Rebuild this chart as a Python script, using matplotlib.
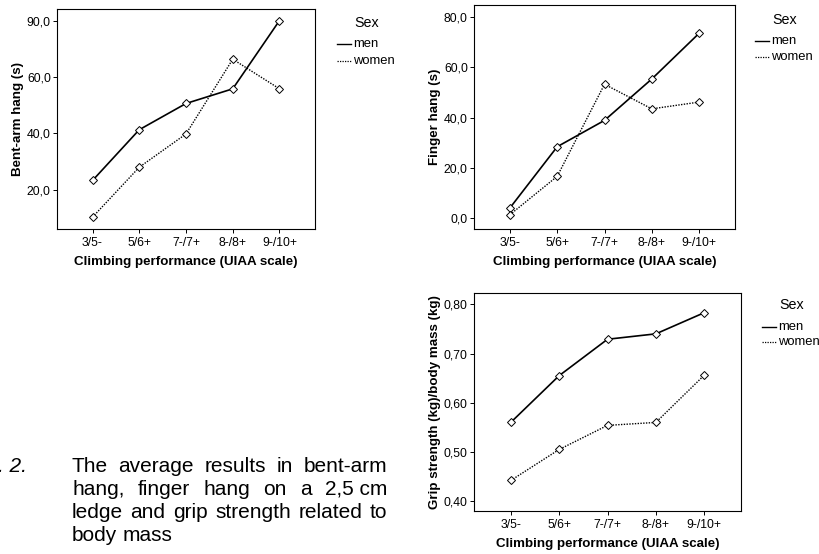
import matplotlib
matplotlib.use("Agg")
import matplotlib.pyplot as plt
from matplotlib.lines import Line2D

plt.rcParams['font.family'] = ['Liberation Sans', 'DejaVu Sans']

# donnees
grades = ["3/5-", "5/6+", "7-/7+", "8-/8+", "9-/10+"]

bent_men = [23.3, 41.3, 50.6, 55.8, 80.0]
bent_women = [10.3, 28.0, 39.8, 66.3, 55.8]
bent_ticks = [20, 40, 60, 80]
bent_ticklabels = ["20,0", "40,0", "60,0", "90,0"]  # tel quel sur l'original

finger_men = [4.0, 28.4, 38.9, 55.4, 73.6]
finger_women = [1.3, 16.6, 53.3, 43.5, 46.2]
finger_ticks = [0, 20, 40, 60, 80]
finger_ticklabels = ["0,0", "20,0", "40,0", "60,0", "80,0"]

grip_men = [0.560, 0.655, 0.729, 0.740, 0.783]
grip_women = [0.442, 0.505, 0.554, 0.560, 0.656]
grip_ticks = [0.40, 0.50, 0.60, 0.70, 0.80]
grip_ticklabels = ["0,40", "0,50", "0,60", "0,70", "0,80"]

caption_lines = [
    ["The", "average", "results", "in", "bent-arm"],
    ["hang,", "finger", "hang", "on", "a", "2,5 cm"],
    ["ledge", "and", "grip", "strength", "related", "to"],
    ["body", "mass"],
]

W, H = 819, 554
fig = plt.figure(figsize=(W / 100, H / 100), dpi=100)


def px_axes(left, right, top, bottom):
    return fig.add_axes([left / W, 1 - bottom / H, (right - left) / W, (bottom - top) / H])


def panel(ax, men, women, ticks, ticklabels, ylim, ylabel):
    x = list(range(len(grades)))
    ax.plot(x, men, color='black', lw=1.2, ls='-', marker='D', ms=3.6,
            mfc='white', mec='black', mew=0.7)
    ax.plot(x, women, color='black', lw=1.0, ls=(0, (1, 1)), marker='D', ms=3.6,
            mfc='white', mec='black', mew=0.7)
    ax.set_xlim(-0.76, 4.76)
    ax.set_ylim(*ylim)
    ax.set_xticks(x)
    ax.set_xticklabels(grades, fontsize=8.8)
    ax.set_yticks(ticks)
    ax.set_yticklabels(ticklabels, fontsize=8.8)
    ax.tick_params(direction='out', length=3, width=0.7, pad=1.5)
    ax.tick_params(axis='x', pad=3)
    for s in ax.spines.values():
        s.set_linewidth(0.8)
    ax.set_xlabel("Climbing performance (UIAA scale)", fontsize=9.6, fontweight='bold', labelpad=5)
    ax.set_ylabel(ylabel, fontsize=9.6, fontweight='bold', labelpad=2)


def legend(x_line, y_sex, y_men, y_women):
    fig.text((x_line + 17) / W, 1 - y_sex / H, "Sex", fontsize=10.3, va='center')
    fig.add_artist(Line2D([x_line / W, (x_line + 14) / W], [1 - y_men / H] * 2,
                          color='black', lw=1.0, ls='-'))
    fig.add_artist(Line2D([x_line / W, (x_line + 14) / W], [1 - y_women / H] * 2,
                          color='black', lw=0.9, ls=(0, (1, 1))))
    fig.text((x_line + 16) / W, 1 - y_men / H, "men", fontsize=9.4, va='center')
    fig.text((x_line + 16) / W, 1 - y_women / H, "women", fontsize=9.4, va='center')


ax1 = px_axes(57, 315, 9, 229)
panel(ax1, bent_men, bent_women, bent_ticks, bent_ticklabels, (6.1, 84.1), "Bent-arm hang (s)")
legend(337, 23, 44, 61)

ax2 = px_axes(474, 735, 5, 229)
panel(ax2, finger_men, finger_women, finger_ticks, finger_ticklabels, (-4.4, 84.9), "Finger hang (s)")
legend(755, 20, 41, 57)

ax3 = px_axes(474, 741, 293, 511)
panel(ax3, grip_men, grip_women, grip_ticks, grip_ticklabels, (0.380, 0.823),
      "Grip strength (kg)/body mass (kg)")
legend(762, 305, 327, 342)

# legende de la figure, texte justifie a la main
fig.text(27 / W, 1 - 466 / H, "Fig. 2.", fontsize=15, style='italic', ha='right', va='center')
fig.canvas.draw()
r = fig.canvas.get_renderer()
x0, x1 = 72, 387
for i, words in enumerate(caption_lines):
    y = 1 - (466 + i * 23.3) / H
    texts = [fig.text(0, y, w, fontsize=15, va='center') for w in words]
    widths = [t.get_window_extent(r).width for t in texts]
    if i < len(caption_lines) - 1:
        gap = (x1 - x0 - sum(widths)) / (len(words) - 1)
    else:
        gap = fig.text(0, 0, " ", fontsize=15).get_window_extent(r).width
    x = x0
    for t, w in zip(texts, widths):
        t.set_x(x / W)
        x += w + gap

fig.savefig("out.png", dpi=100)
